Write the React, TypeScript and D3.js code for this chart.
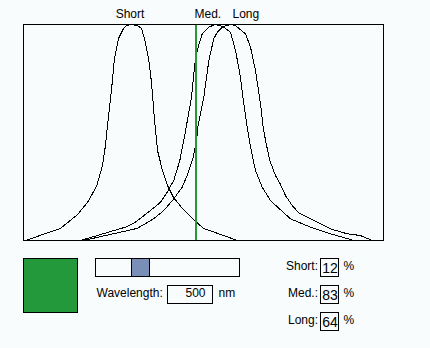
import React from "react";
import * as d3 from "d3";

// ---- data (wavelength nm, relative sensitivity %) ----
const shortCone: [number, number][] = [
  [272.7, 0], [319.3, 5.6], [342, 12], [355.3, 17.6], [367.3, 25], [375.3, 34.7],
  [379.3, 44], [382, 53.2], [388.3, 73.1], [391.3, 84.3], [396.7, 93.5], [403.3, 98.1],
  [407.3, 99.5], [414, 100], [422, 99.5], [427.3, 98.1], [431.3, 93.5], [436.7, 84.3],
  [440.7, 73.1], [444.7, 55.6], [448.7, 41.7], [455.3, 32.4], [462, 25.5], [470, 19.9],
  [482, 14.8], [496.7, 9.7], [510, 5.6], [555.3, 0],
];
const medCone: [number, number][] = [
  [346, 0], [406, 6.2], [419.3, 8.5], [439.3, 13.9], [452.7, 17.7], [461.6, 22.4],
  [470.4, 27.8], [478.4, 37], [483.7, 46.3], [487.3, 53.2], [494, 66.3], [498.4, 81.8],
  [501.6, 88], [508.3, 95.7], [517.1, 98.8], [522, 99.5], [526, 100], [531.3, 99.5],
  [536.7, 98.8], [546, 96.4], [552.7, 88], [559.3, 75.6], [563.7, 63.3], [568, 53.2],
  [572.7, 43.2], [579.3, 32.4], [588.3, 24.7], [599.3, 18.5], [612.7, 14.2], [626, 10],
  [652.7, 6.2], [679.3, 3.1], [710.4, 0],
];
const longCone: [number, number][] = [
  [350, 0], [421.6, 5.6], [443.3, 10], [457.1, 13.9], [470.4, 19.3], [481.6, 24.7],
  [489.1, 30.9], [496.3, 38.6], [500.7, 46.3], [502.7, 53.2], [510.4, 66.3], [517.1, 83.3],
  [523.7, 93.4], [528.3, 96.4], [535.3, 98.8], [540.7, 99.5], [547.3, 100], [552.7, 99.5],
  [566, 95.7], [572.7, 89.5], [579.3, 78.7], [586, 63.3], [589.3, 53.2], [592.7, 46.3],
  [598.4, 37], [606, 30.1], [612.7, 25.9], [619.3, 20.8], [628.3, 16.2], [637.1, 12.8],
  [657.1, 9.3], [679.3, 5.4], [701.6, 3.1], [719.3, 2.3], [735, 0],
];
const coneNames = ["Short", "Med.", "Long"];
const responses = [12, 83, 64];
const wavelength = 500;
const sliderRange = [400, 750];
const swatchColor = "#23993b";

const FONT = "'Liberation Sans', Arial, Helvetica, sans-serif";
const BG = "#f8fcfc";

export default function App() {
  const W = 430, H = 348;
  const x = d3.scaleLinear().domain([270, 750]).range([23, 383]);
  const y = d3.scaleLinear().domain([0, 100]).range([240, 24]);
  const line = d3.line<[number, number]>().x(d => x(d[0])).y(d => y(d[1]));
  const curves = [shortCone, medCone, longCone];

  // slider
  const trackX0 = 95, trackX1 = 239, thumbW = 18;
  const sx = d3.scaleLinear().domain(sliderRange).range([trackX0, trackX1 - thumbW]);

  const labelX = [129.5, 194, 232];
  const labelAnchor = ["middle", "start", "start"];
  const rowY = [258, 285, 312];

  return (
    <svg
      width={W}
      height={H}
      style={{ position: "fixed", left: 0, top: 0, background: BG }}
      fontFamily={FONT}
      fontSize={12}
    >
      <rect x={0} y={0} width={W} height={H} fill={BG} />
      <g transform="translate(0.5,0.5)">
        {coneNames.map((n, i) => (
          <text key={n} x={labelX[i]} y={17} textAnchor={labelAnchor[i]} fill="#000">
            {n}
          </text>
        ))}
        {curves.map((c, i) => (
          <path key={i} d={line(c) || ""} fill="none" stroke="#000" strokeWidth={1} shapeRendering="crispEdges" />
        ))}
        <line
          x1={x(wavelength) - 0.5} x2={x(wavelength) - 0.5} y1={y(100)} y2={y(0)}
          stroke={swatchColor} strokeWidth={2} shapeRendering="crispEdges"
        />
        <rect
          x={x.range()[0]} y={y.range()[1]}
          width={x.range()[1] - x.range()[0]} height={y.range()[0] - y.range()[1]}
          fill="none" stroke="#000" shapeRendering="crispEdges"
        />

        {/* colour swatch */}
        <rect x={23} y={258} width={54} height={54} fill={swatchColor} stroke="#000" shapeRendering="crispEdges" />

        {/* slider */}
        <rect x={trackX0} y={258} width={trackX1 - trackX0} height={18} fill={BG} stroke="#000" shapeRendering="crispEdges" />
        <rect x={sx(wavelength)} y={258} width={thumbW} height={18} fill="#7a8fb8" stroke="#000" shapeRendering="crispEdges" />

        <text x={96} y={296}>Wavelength:</text>
        <rect x={167} y={285} width={45} height={18} fill={BG} stroke="#000" shapeRendering="crispEdges" />
        <text x={205} y={296} textAnchor="end">{wavelength}</text>
        <text x={218} y={296}>nm</text>

        {/* readouts */}
        {coneNames.map((n, i) => (
          <g key={n}>
            <text x={317.5} y={rowY[i] + 11} textAnchor="end">{n}:</text>
            <rect x={320} y={rowY[i]} width={18} height={18} fill={BG} stroke="#000" shapeRendering="crispEdges" />
            <text x={329.5} y={rowY[i] + 14.5} textAnchor="middle" fontSize={14}>{responses[i]}</text>
            <text x={343} y={rowY[i] + 11}>%</text>
          </g>
        ))}
      </g>
    </svg>
  );
}
